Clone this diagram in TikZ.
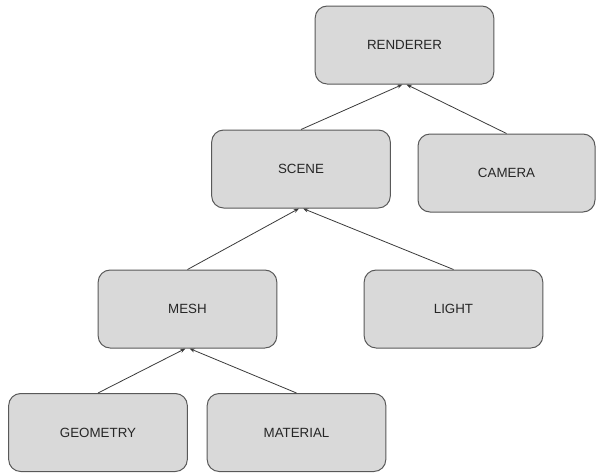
\documentclass[tikz,border=0pt]{standalone}
\usepackage{fontspec}
\setmainfont{Liberation Sans}
\usetikzlibrary{arrows.meta}
\definecolor{boxfill}{HTML}{D9D9D9}
\definecolor{boxline}{HTML}{595959}
\definecolor{linkc}{HTML}{3A3A3A}
\begin{document}
\begin{tikzpicture}[x=0.75pt,y=-0.75pt,
  box/.style={draw=boxline,fill=boxfill,line width=0.75pt,rounded corners=9pt,
    minimum width=134pt,minimum height=58.5pt,inner sep=0pt,
    font=\fontsize{10}{12}\selectfont,text=black!85},
  link/.style={draw=linkc,line width=0.6pt,-{Stealth[length=4pt,width=3pt]}}]
\useasboundingbox (0,0) rectangle (596,472);
\node[box] (renderer) at (404.5,45) {RENDERER};
\node[box] (scene) at (301,169) {SCENE};
\node[box,minimum width=132.75pt] (camera) at (506.5,173) {CAMERA};
\node[box] (mesh) at (187.5,309) {MESH};
\node[box] (light) at (453.5,309) {LIGHT};
\node[box] (geometry) at (98,432.5) {GEOMETRY};
\node[box] (material) at (296.5,432.5) {MATERIAL};
\draw[link] (scene.north) -- ([xshift=-1.5pt]renderer.south);
\draw[link] (camera.north) -- ([xshift=1.5pt]renderer.south);
\draw[link] (mesh.north) -- ([xshift=-1.5pt]scene.south);
\draw[link] (light.north) -- ([xshift=1.5pt]scene.south);
\draw[link] (geometry.north) -- ([xshift=-1.5pt]mesh.south);
\draw[link] (material.north) -- ([xshift=1.5pt]mesh.south);
\end{tikzpicture}
\end{document}
